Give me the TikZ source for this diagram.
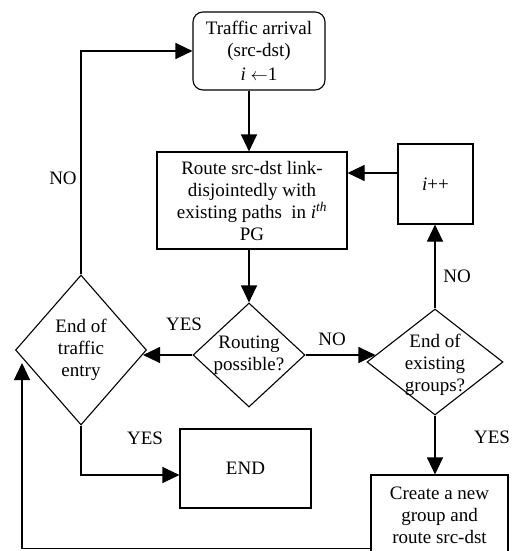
\documentclass[tikz,border=0pt]{standalone}
\usepackage{fontspec}
\setmainfont{Liberation Serif}
\usetikzlibrary{arrows.meta,shapes.geometric,calc}
\begin{document}
\begin{tikzpicture}[x=1pt,y=-1pt,
  font=\fontsize{19}{22}\selectfont,
  line width=1.1pt,
  box/.style={draw,rectangle,inner sep=0pt,align=center},
  cond/.style={draw,diamond,inner sep=0pt},
  arr/.style={-{Triangle[length=17pt,width=16pt]}},
  lbl/.style={inner sep=0pt}]
\useasboundingbox (0,0) rectangle (515,551);
\clip (0,0) rectangle (515,551);

% process boxes
\node[box,rounded corners=10pt,minimum width=132pt,minimum height=78pt] (ta) at (259,51)
  {Traffic arrival\\(src-dst)\\[2pt]\textit{i} $\leftarrow$1};
\node[box,minimum width=190pt,minimum height=97pt] (rt) at (252,200.5)
  {Route src-dst link-\\disjointedly with\\existing paths\ \ in \textit{i}\textsuperscript{\textit{th}}\\PG};
\node[box,minimum width=75pt,minimum height=80pt] (inc) at (435.5,184) {\textit{i}++};
\node[box,minimum width=131pt,minimum height=79pt] (fin) at (245.5,468.5) {END};
\node[box,minimum width=137pt,minimum height=80pt] (cng) at (439.5,515)
  {Create a new\\group and\\route src-dst};

% decisions
\node[cond,minimum width=131pt,minimum height=150pt,
  label={[align=center]center:End of\\traffic\\entry}] (ete) at (81,350) {};
\node[cond,minimum width=112pt,minimum height=104pt,
  label={[align=center]center:Routing\\possible?}] (rp) at (249,355) {};
\node[cond,minimum width=136pt,minimum height=106pt,
  label={[align=center,yshift=-3pt]center:End of\\existing\\groups?}] (eeg) at (435,362) {};

\coordinate (retend) at (22,363);

% connectors
\draw[arr] (ta.south -| rp.north) -- (rt.north -| rp.north);
\draw[arr] (rt.south -| rp.north) -- (rp.north);
\draw[arr,shorten >=-4pt] (rp.west) -- (rp.west -| ete.east);
\draw[arr,shorten >=-9pt] (rp.east) -- (rp.east -| eeg.west);
\draw[arr] (eeg.north) -- (eeg.north |- inc.south);
\draw[arr] ([yshift=11pt]inc.west) -- ([yshift=11pt]inc.west -| rt.east);
\draw[arr] (eeg.south) -- (eeg.south |- cng.north);
\draw[arr] (ete.north) |- (ta.west);
\draw[arr] (ete.south) |- ([yshift=-6.5pt]fin.west);
\draw[arr] ([yshift=7pt]cng.south west) -| (retend);

% branch labels
\node[lbl] (l1) at (63,178) {NO};
\node[lbl] (l2) at (184,324) {YES};
\node[lbl] (l3) at (332,339) {NO};
\node[lbl] (l4) at (457,276) {NO};
\node[lbl] (l5) at (492,437) {YES};
\node[lbl] (l6) at (145,438) {YES};
\end{tikzpicture}
\end{document}
